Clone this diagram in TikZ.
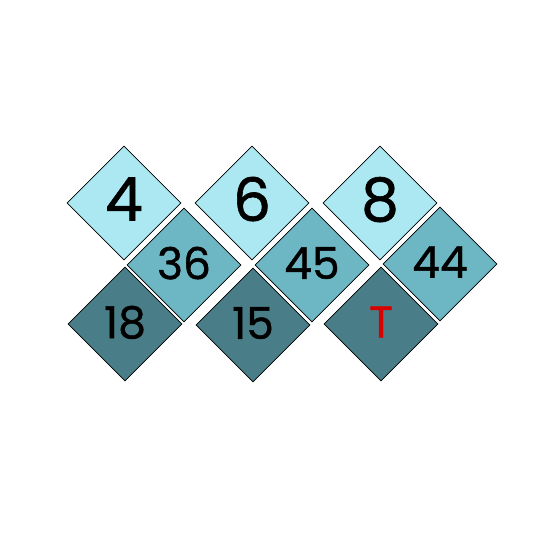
\documentclass[tikz,border=0pt]{standalone}
\usepackage{fontspec}
\setmainfont{Poppins}
\newfontfamily\tilefont{Poppins}[FakeBold=1]
\usetikzlibrary{shapes.geometric}
\definecolor{tilelight}{RGB}{171,232,242}
\definecolor{tilemid}{RGB}{109,182,195}
\definecolor{tiledark}{RGB}{73,126,136}
\begin{document}
\begin{tikzpicture}[x=1pt,y=-1pt,
    tile/.style={diamond,draw=black,line width=0.8pt,inner sep=0pt,
        minimum width=114pt,minimum height=114pt},
    toptile/.style={tile,fill=tilelight,text depth=8pt,
        font=\tilefont\fontsize{60}{60}\selectfont},
    midtile/.style={tile,fill=tilemid,text depth=4pt,
        font=\tilefont\fontsize{44}{44}\selectfont},
    lowtile/.style={tile,fill=tiledark,text depth=4pt,
        font=\tilefont\fontsize{44}{44}\selectfont}]
    \useasboundingbox (0,0) rectangle (557,557);
        \node[toptile] (four) at (124,203) {4};
        \node[toptile] (six) at (252,203) {6};
        \node[toptile] (eight) at (380,203) {8};
        \node[midtile] (thirtysix) at (184,265) {36};
        \node[midtile] (fortyfive) at (312,265) {45};
        \node[midtile] (fortyfour) at (440,264) {44};
        \node[lowtile] (eighteen) at (125,324) {18};
        \node[lowtile] (fifteen) at (253,325) {15};
        \node[lowtile,text=red!85!black] (target) at (381,324) {T};
    \end{tikzpicture}
\end{document}
